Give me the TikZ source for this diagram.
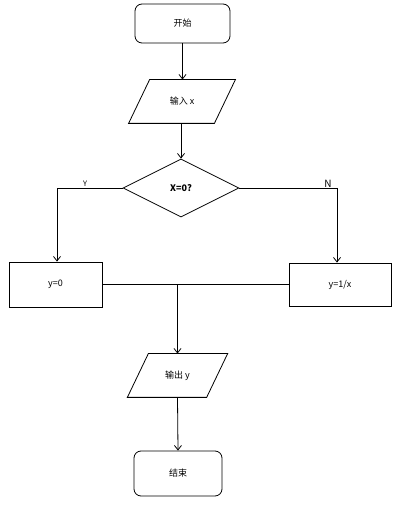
\documentclass[tikz,border=0pt]{standalone}
\usepackage{fontspec}
\setmainfont{Carlito}
\newfontfamily\cjk{Noto Sans CJK SC}
\usetikzlibrary{shapes.geometric,arrows.meta}
\begin{document}
\begin{tikzpicture}[x=1pt,y=1pt,
  line width=0.8pt,
  every node/.style={font=\cjk\fontsize{9}{10}\selectfont},
  term/.style={draw, rounded corners=7pt, inner sep=0pt},
  procbox/.style={draw, inner sep=0pt},
  iobox/.style={inner sep=0pt, minimum height=43pt},
  decision/.style={draw, diamond, aspect=2, inner sep=0pt, minimum width=116pt, minimum height=58pt},
  arr/.style={-{Straight Barb[length=4.5pt,width=7pt]}},
  lbl/.style={inner sep=0pt}
]
\useasboundingbox (0,0) rectangle (404,506);
\node[term, minimum width=95pt, minimum height=39pt] (start) at (182.5,482.5) {开始};
\node[iobox, minimum width=85pt] (in) at (182,404.5) {输入 x};
\draw ([xshift=10.5pt]in.north west) -- ([xshift=10.5pt]in.north east)
  -- ([xshift=-10.5pt]in.south east) -- ([xshift=-10.5pt]in.south west) -- cycle;
\node[decision] (dec) at (181,318) {\bfseries X=0?};
\node[procbox, minimum width=93pt, minimum height=45pt] (b0) at (55.5,221.5) {y=0};
\node[procbox, minimum width=102pt, minimum height=43pt] (b1) at (340,221.5) {y=1/x};
\node[iobox, minimum width=78.5pt] (out) at (177.5,130.5) {输出 y};
\draw ([xshift=10.5pt]out.north west) -- ([xshift=10.5pt]out.north east)
  -- ([xshift=-10.5pt]out.south east) -- ([xshift=-10.5pt]out.south west) -- cycle;
\node[term, minimum width=88pt, minimum height=45pt] (end) at (178,32.5) {结束};
\node[lbl, font=\cjk\fontsize{7.5}{8}\selectfont] (ly) at (85,322) {Y};
\node[lbl, font=\cjk\fontsize{10}{11}\selectfont] (ln) at (328,322) {N};
\coordinate (m) at (out.north |- b0.east);
\draw[arr] (start.south) -- (start.south |- in.north);
\draw[arr] (dec.north |- in.south) -- (dec.north);
\draw[arr] (dec.west) -| ([xshift=1.5pt]b0.north);
\draw[arr] (dec.east) -| ([xshift=-3pt]b1.north);
\draw (b0.east) -- (b1.west);
\draw[arr] (m) -- (out.north);
\draw[arr] (out.south) -- (end.north);
\end{tikzpicture}
\end{document}
